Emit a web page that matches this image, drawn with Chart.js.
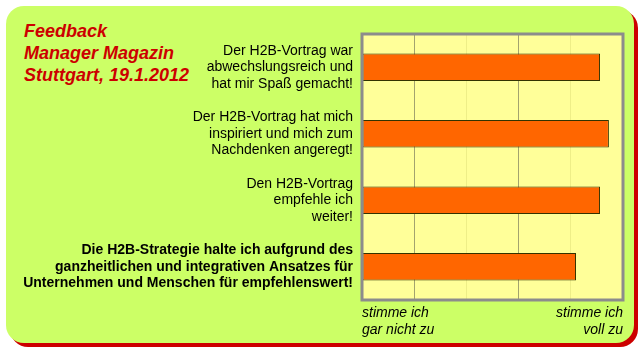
<!DOCTYPE html>
<html>
<head>
<meta charset="utf-8">
<script src="https://cdn.jsdelivr.net/npm/chart.js@4"></script>
<style>
  html, body { margin: 0; padding: 0; background: #fff; }
  #wrap { position: relative; width: 640px; height: 351px; overflow: hidden; }
  .card {
    position: absolute; left: 6px; top: 6px; width: 628px; height: 337px;
    background: #ccff66; border-radius: 18px;
    box-shadow: 4px 4px 0 #cc0000;
  }
  .title {
    position: absolute; left: 24px; top: 20px;
    font: italic bold 18px Arial, "Liberation Sans", sans-serif;
    line-height: 22px; color: #cc0000;
  }
  canvas { position: absolute; left: 0; top: 0; }
</style>
</head>
<body>
<div id="wrap">
  <div class="card"></div>
  <div class="title">Feedback<br>Manager Magazin<br>Stuttgart, 19.1.2012</div>
  <canvas id="barChart" width="640" height="351"></canvas>
</div>
<script>
'use strict';

// --- data ---
const categories = [
  ['Der H2B-Vortrag war', 'abwechslungsreich und', 'hat mir Spaß gemacht!'],
  ['Der H2B-Vortrag hat mich', 'inspiriert und mich zum', 'Nachdenken angeregt!'],
  ['Den H2B-Vortrag', 'empfehle ich', 'weiter!'],
  ['Die H2B-Strategie halte ich aufgrund des', 'ganzheitlichen und integrativen Ansatzes für', 'Unternehmen und Menschen für empfehlenswert!']
];
const ratings = [4.56, 4.73, 4.56, 4.1];
const scaleMin = 0;
const scaleMax = 5;
const scaleLabels = [['stimme ich', 'gar nicht zu'], ['stimme ich', 'voll zu']];

const FONT = 'Arial, "Liberation Sans", sans-serif';

// yellow plot background + grey frame
const plotFrame = {
  id: 'plotFrame',
  beforeDraw(chart) {
    const { ctx, chartArea: a } = chart;
    ctx.save();
    ctx.fillStyle = '#ffff99';
    ctx.fillRect(a.left, a.top, a.right - a.left, a.bottom - a.top);
    ctx.restore();
  },
  afterDatasetsDraw(chart) {
    const { ctx, chartArea: a } = chart;
    ctx.save();
    ctx.strokeStyle = '#8c8c8c';
    ctx.lineWidth = 3;
    ctx.strokeRect(a.left, a.top, a.right - a.left, a.bottom - a.top);
    ctx.restore();
  }
};

new Chart(document.getElementById('barChart'), {
  type: 'bar',
  data: {
    labels: categories,
    datasets: [{
      data: ratings,
      backgroundColor: '#ff6600',
      borderColor: '#333300',
      borderWidth: 1,
      borderSkipped: false,
      categoryPercentage: 1,
      barPercentage: 0.41
    }]
  },
  options: {
    indexAxis: 'y',
    responsive: false,
    animation: false,
    layout: { padding: { top: 34, right: 17, left: 0, bottom: 0 } },
    plugins: {
      legend: { display: false },
      tooltip: { enabled: false }
    },
    scales: {
      x: {
        min: scaleMin,
        max: scaleMax,
        afterFit: s => { s.height = 51; s.paddingRight = 0; s.paddingLeft = 0; },
        border: { display: false },
        grid: {
          drawTicks: false,
          lineWidth: 1,
          color: c => (c.index % 2 === 1 ? '#a3a36e' : '#eeee88')
        },
        ticks: {
          stepSize: 1,
          padding: 5,
          align: 'inner',
          maxRotation: 0,
          minRotation: 0,
          autoSkip: false,
          color: '#000',
          font: { family: FONT, size: 14, style: 'italic', lineHeight: 1.2 },
          callback: v => (v === scaleMin ? scaleLabels[0] : v === scaleMax ? scaleLabels[1] : '')
        }
      },
      y: {
        afterFit: s => { s.width = 362; },
        border: { display: false },
        grid: { display: false, drawTicks: false },
        ticks: {
          padding: 9,
          color: '#000',
          font: c => ({
            family: FONT,
            size: 14,
            weight: c.index === 3 ? 'bold' : 'normal',
            lineHeight: 1.18
          })
        }
      }
    }
  },
  plugins: [plotFrame]
});
</script>
</body>
</html>
